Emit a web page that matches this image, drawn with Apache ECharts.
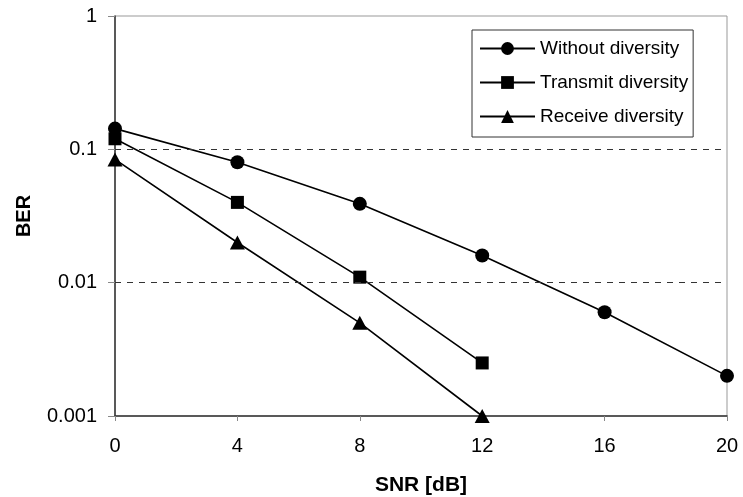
<!DOCTYPE html>
<html>
<head>
<meta charset="utf-8">
<script src="https://cdn.jsdelivr.net/npm/echarts@6/dist/echarts.min.js"></script>
<style>html,body{margin:0;padding:0;background:#fff;}#c{width:743px;height:497px;}</style>
</head>
<body>
<div id="c"></div>
<script>
var snr = [0, 4, 8, 12, 16, 20];
var withoutDiversity = [0.143, 0.08, 0.039, 0.016, 0.006, 0.002];
var transmitDiversity = [0.12, 0.04, 0.011, 0.0025];
var receiveDiversity = [0.084, 0.02, 0.005, 0.001];
var yTickLabels = {1: '1', 0.1: '0.1', 0.01: '0.01', 0.001: '0.001'};
var seriesNames = ['Without diversity', 'Transmit diversity', 'Receive diversity'];
var gridLines = [0.1, 0.01];

function pairs(vals) { return vals.map(function (v, i) { return [snr[i], v]; }); }

var font = 'Liberation Sans, Arial, sans-serif';
var chart = echarts.init(document.getElementById('c'));
chart.setOption({
  animation: false,
  backgroundColor: '#fff',
  grid: { left: 115, right: 16, top: 16, bottom: 81, containLabel: false, outerBoundsMode: 'none',
    show: true, borderColor: '#999', borderWidth: 1, backgroundColor: 'transparent' },
  legend: {
    orient: 'vertical', left: 472, top: 30,
    padding: [9, 5, 11, 7], itemGap: 15,
    itemWidth: 55, itemHeight: 16,
    backgroundColor: '#fff',
    borderColor: '#333', borderWidth: 1, borderRadius: 0,
    textStyle: { fontFamily: font, fontSize: 19, color: '#000' },
    data: seriesNames
  },
  xAxis: {
    type: 'value', min: 0, max: 20, interval: 4,
    name: 'SNR [dB]', nameLocation: 'middle', nameGap: 59,
    nameTextStyle: { fontFamily: font, fontSize: 21, fontWeight: 'bold', color: '#000' },
    axisLine: { lineStyle: { color: '#333', width: 1.5 } },
    axisTick: { show: true, length: 5, lineStyle: { color: '#888' } },
    axisLabel: { fontFamily: font, fontSize: 20, color: '#000', margin: 20 },
    splitLine: { show: false }
  },
  yAxis: {
    type: 'log', logBase: 10, min: 0.001, max: 1,
    name: 'BER', nameLocation: 'middle', nameGap: 81,
    nameTextStyle: { fontFamily: font, fontSize: 20, fontWeight: 'bold', color: '#000' },
    axisLine: { show: true, lineStyle: { color: '#333', width: 1.5 } },
    axisTick: { show: true, inside: false, length: 7, lineStyle: { color: '#888' } },
    axisLabel: { fontFamily: font, fontSize: 20, color: '#000', margin: 18,
      formatter: function (v) { var k = Object.keys(yTickLabels).find(function (x) { return Math.abs(+x - v) / v < 1e-6; }); return k !== undefined ? yTickLabels[k] : ''; } },
    splitLine: { show: false }
  },
  series: [
    {
      name: seriesNames[0], type: 'line', data: pairs(withoutDiversity),
      symbol: 'circle', symbolSize: 14,
      lineStyle: { color: '#000', width: 1.6 }, itemStyle: { color: '#000' },
      markLine: {
        silent: true, symbol: ['none', 'none'], label: { show: false },
        lineStyle: { color: '#333', type: [6, 6], width: 1 },
        data: gridLines.map(function (g) { return { yAxis: g }; })
      },
      z: 3
    },
    {
      name: seriesNames[1], type: 'line', data: pairs(transmitDiversity),
      symbol: 'rect', symbolSize: 13,
      lineStyle: { color: '#000', width: 1.6 }, itemStyle: { color: '#000' }, z: 3
    },
    {
      name: seriesNames[2], type: 'line', data: pairs(receiveDiversity),
      symbol: 'triangle', symbolSize: [15, 14],
      lineStyle: { color: '#000', width: 1.6 }, itemStyle: { color: '#000' }, z: 3
    }
  ]
});
</script>
</body>
</html>
